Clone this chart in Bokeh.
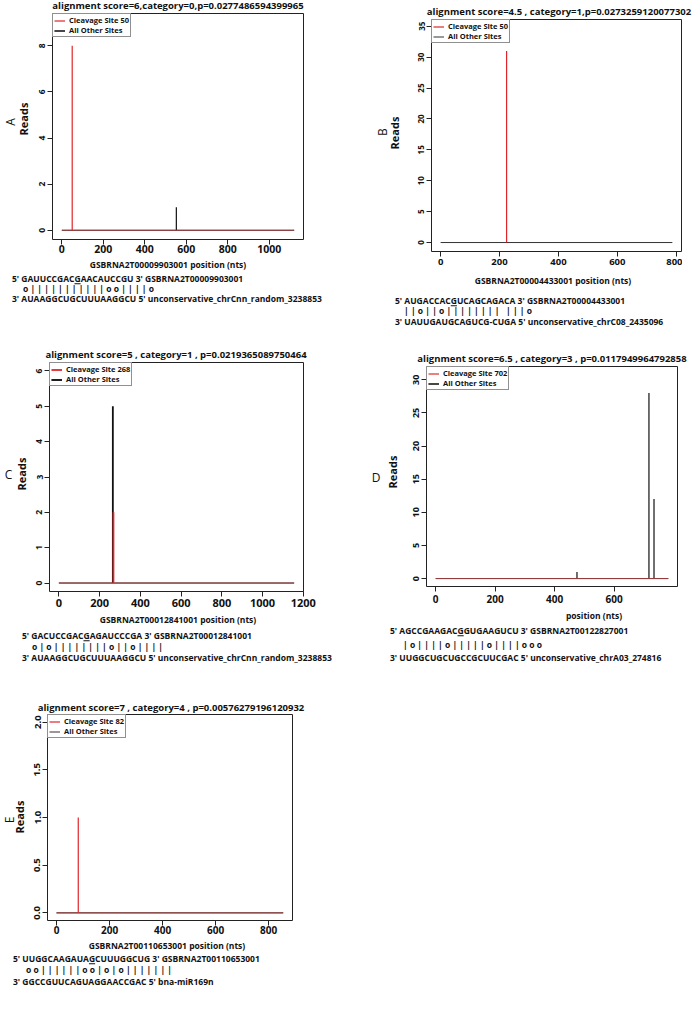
from bokeh.plotting import figure
from bokeh.models import Legend, LegendItem, FixedTicker, Range1d, Div
from bokeh.layouts import row, column
from bokeh.embed import file_html
from bokeh.resources import INLINE

FONT = "Open Sans"

# ------------------------------------------------------------------ data
panel_letters = ["A", "B", "C", "D", "E"]
plot_titles = [
    "alignment score=6,category=0,p=0.0277486594399965",
    "alignment score=4.5 , category=1,p=0.0273259120077302",
    "alignment score=5 , category=1 , p=0.0219365089750464",
    "alignment score=6.5 , category=3 , p=0.0117949964792858",
    "alignment score=7 , category=4 , p=0.00576279196120932",
]
transcript_ids = ["GSBRNA2T00009903001", "GSBRNA2T00004433001", "GSBRNA2T00012841001",
                  "GSBRNA2T00122827001", "GSBRNA2T00110653001"]
x_axis_titles = ["GSBRNA2T00009903001 position (nts)", "GSBRNA2T00004433001 position (nts)",
                 "GSBRNA2T00012841001 position (nts)", "position (nts)",
                 "GSBRNA2T00110653001 position (nts)"]
y_axis_title = "Reads"
transcript_lengths = [1120, 787, 1155, 782, 855]
cleavage_site_labels = [50, 50, 268, 702, 82]
cleavage_positions = [[50], [224], [268], [702], [82]]
cleavage_reads = [[8], [31], [2], [0], [1]]
other_positions = [[552], [], [265], [475, 717, 734], []]
other_reads = [[1], [], [5], [1, 28, 12], []]
x_tick_values = [[0, 200, 400, 600, 800, 1000], [0, 200, 400, 600, 800],
                 [0, 200, 400, 600, 800, 1000, 1200], [0, 200, 400, 600], [0, 200, 400, 600, 800]]
y_tick_values = [[0, 2, 4, 6, 8], [0, 5, 10, 15, 20, 25, 30, 35], [0, 1, 2, 3, 4, 5, 6],
                 [0, 5, 10, 15, 20, 25, 30], [0, 0.5, 1.0, 1.5, 2.0]]
y_tick_labels = [["0", "2", "4", "6", "8"], ["0", "5", "10", "15", "20", "25", "30", "35"],
                 ["0", "1", "2", "3", "4", "5", "6"], ["0", "5", "10", "15", "20", "25", "30"],
                 ["0.0", "0.5", "1.0", "1.5", "2.0"]]
x_limits = [(-45, 1165), (-31, 818), (-46, 1201), (-31, 813), (-34, 890)]
y_limits = [(-0.4, 9.4), (-1.45, 36.1), (-0.24, 6.24), (-1.2, 32.0), (-0.08, 2.08)]
mrna_seqs = ["GAUUCCGACGAACAUCCGU", "AUGACCACGUCAGCAGACA", "GACUCCGACGAGAUCCCGA",
             "AGCCGAAGACGGUGAAGUCU", "UUGGCAAGAUAGCUUUGGCUG"]
cut_index = [9, 8, 9, 10, 11]
pairing = ["o|||||||||||oo||||o", "||o||o|||||||| |||o", "o|o||||||||o||o||||",
           "|o||||o|||||o||||ooo", "oo||||||oo|o|o|||||||"]
srna_seqs = ["AUAAGGCUGCUUUAAGGCU", "UAUUGAUGCAGUCG-CUGA", "AUAAGGCUGCUUUAAGGCU",
             "UUGGCUGCUGCCGCUUCGAC", "GGCCGUUCAGUAGGAACCGAC"]
srna_ids = ["unconservative_chrCnn_random_3238853", "unconservative_chrC08_2435096",
            "unconservative_chrCnn_random_3238853", "unconservative_chrA03_274816", "bna-miR169n"]

# ------------------------------------------------------------------ layout (pixel coords)
GEO = [
    dict(block=(0, 0, 357, 335), left_w=32, frame=(52, 13, 303, 239), fig_bottom=259,
         title=(178, 6), reads=(24, 119), letter=(10, 122, True), xlab=(168, 265),
         seq_y=(279, 289, 299), seq_x=(12, 23), xstand=0, ysize=8.5, xsize=10.5, lw=1.2, red_base=True),
    dict(block=(357, 0, 682, 335), left_w=47, frame=(431, 19, 681, 251), fig_bottom=273,
         title=(559, 12), reads=(395, 133), letter=(382, 132, True), xlab=(553, 281),
         seq_y=(301, 311, 322), seq_x=(395, 404), xstand=2, ysize=8, xsize=9.5, lw=1.2, red_base=False),
    dict(block=(0, 335, 357, 666), left_w=29, frame=(49, 362, 303, 591), fig_bottom=613,
         title=(176, 355), reads=(22, 474), letter=(8.5, 474, False), xlab=(178, 620),
         seq_y=(636, 647, 658), seq_x=(22, 32), xstand=2, ysize=8.5, xsize=11, lw=1.8, red_base=True),
    dict(block=(357, 335, 682, 666), left_w=45, frame=(426, 366, 677, 586), fig_bottom=609,
         title=(552, 359), reads=(393, 472), letter=(376, 477, False), xlab=(594, 616),
         seq_y=(631, 645, 658), seq_x=(390, 403), xstand=3, ysize=9, xsize=10, lw=1.2, red_base=True),
    dict(block=(0, 666, 357, 995), left_w=27, frame=(47, 714, 292, 920), fig_bottom=939,
         title=(171, 708), reads=(20, 817), letter=(9, 820, True), xlab=(167, 946),
         seq_y=(959, 970, 982), seq_x=(13, 26), xstand=0, ysize=9.5, xsize=10, lw=1.2, red_base=True),
]
RED = "#e0252a"
RED_BASE = "#9a3b3b"
INK = "#222222"


def txt(x, y, s, size, weight="bold", rotate=False, align="center"):
    tr = "translate(-50%,-50%)" if align == "center" else "translate(0,-50%)"
    if rotate:
        tr += " rotate(-90deg)"
    return (f'<div style="position:absolute;left:{x}px;top:{y}px;width:0;height:0;">'
            f'<div style="position:absolute;left:0;top:0;transform:{tr};white-space:pre;'
            f'font-size:{size}px;font-weight:{weight};line-height:{size + 1}px;">{s}</div></div>')


def box_div(w, h, parts):
    html = (f'<div style="position:relative;width:{w}px;height:{h}px;font-family:\'Open Sans\',sans-serif;'
            f'color:#111111;">' + "".join(parts) + "</div>")
    return Div(text=html, width=w, height=h, margin=(0, 0, 0, 0), styles={"overflow": "visible"})


def make_plot(i, width, height, borders):
    g = GEO[i]
    bl, br, bt, bb = borders
    p = figure(width=width, height=height, output_backend="svg", toolbar_location=None, title=None,
               x_range=Range1d(*x_limits[i]), y_range=Range1d(*y_limits[i]),
               min_border_left=bl, min_border_right=br, min_border_top=bt, min_border_bottom=bb)
    p.grid.visible = False
    p.outline_line_color = INK
    p.outline_line_width = 1
    p.outline_line_alpha = 1
    p.background_fill_color = "white"
    p.border_fill_color = "white"

    L0 = transcript_lengths[i]
    r_base = p.line(x=[0, L0], y=[0, 0], line_color="#333333", line_width=1)
    r_other = p.segment(x0=other_positions[i], y0=[0] * len(other_positions[i]),
                        x1=other_positions[i], y1=other_reads[i],
                        line_color="#111111", line_width=g["lw"])
    if g["red_base"]:
        p.line(x=[0, L0], y=[0, 0], line_color=RED_BASE, line_width=1)
    r_red = p.segment(x0=cleavage_positions[i], y0=[0] * len(cleavage_positions[i]),
                      x1=cleavage_positions[i], y1=cleavage_reads[i],
                      line_color=RED, line_width=g["lw"])

    leg = Legend(items=[LegendItem(label=f"Cleavage Site {cleavage_site_labels[i]}", renderers=[r_red]),
                        LegendItem(label="All Other Sites", renderers=[r_base, r_other])],
                 location="top_left", margin=0, padding=1, spacing=0, label_standoff=4,
                 glyph_width=11, glyph_height=9, label_height=9,
                 label_text_font=FONT, label_text_font_size="7.5px", label_text_font_style="bold",
                 label_text_color="#111111",
                 border_line_color=INK, border_line_width=1,
                 background_fill_color="white", background_fill_alpha=1)
    p.add_layout(leg)

    xa = p.xaxis[0]
    xa.ticker = FixedTicker(ticks=x_tick_values[i])
    xa.bounds = (x_tick_values[i][0], x_tick_values[i][-1])
    ya = p.yaxis[0]
    ya.ticker = FixedTicker(ticks=y_tick_values[i])
    ya.bounds = (y_tick_values[i][0], y_tick_values[i][-1])
    ya.major_label_overrides = {v: s for v, s in zip(y_tick_values[i], y_tick_labels[i])}
    ya.major_label_orientation = "vertical"
    for ax, size, st in ((xa, g["xsize"], g["xstand"]), (ya, g["ysize"], 2)):
        ax.axis_line_color = INK
        ax.major_tick_line_color = INK
        ax.major_tick_out = 5
        ax.major_tick_in = 0
        ax.minor_tick_out = 0
        ax.minor_tick_in = 0
        ax.major_label_text_font = FONT
        ax.major_label_text_font_size = f"{size}px"
        ax.major_label_text_font_style = "bold"
        ax.major_label_text_color = "#111111"
        ax.major_label_standoff = st
    return p


def make_block(i):
    g = GEO[i]
    bx0, by0, bx1, by1 = g["block"]
    L, T, R, B = g["frame"]
    lw = g["left_w"]
    cx0 = bx0 + lw
    fig_top = T - 1
    fig_bot = g["fig_bottom"]
    col_w = bx1 - cx0
    title_h = fig_top - by0
    fig_h = fig_bot - fig_top
    bottom_h = by1 - fig_bot

    p = make_plot(i, col_w, fig_h, (L - cx0, bx1 - R, 1, fig_bot - B))

    title_div = box_div(col_w, title_h, [txt(g["title"][0] - cx0, g["title"][1] - by0, plot_titles[i], 9.5)])

    lx, ly, rot = g["letter"]
    left_div = box_div(lw, title_h + fig_h, [
        txt(lx - bx0, ly - by0, panel_letters[i], 12, weight="normal", rotate=rot),
        txt(g["reads"][0] - bx0, g["reads"][1] - by0, y_axis_title, 11, rotate=True),
    ])

    seq, k = mrna_seqs[i], cut_index[i]
    line1 = f"5' {seq[:k]}<u>{seq[k]}</u>{seq[k + 1:]} 3' {transcript_ids[i]}"
    line2 = " ".join(pairing[i])
    line3 = f"3' {srna_seqs[i]} 5' {srna_ids[i]}"
    xs, xp = g["seq_x"]
    ys = g["seq_y"]
    bottom_div = box_div(bx1 - bx0, bottom_h, [
        txt(g["xlab"][0] - bx0, g["xlab"][1] - fig_bot, x_axis_titles[i], 8.5),
        txt(xs - bx0, ys[0] - fig_bot, line1, 8.5, align="left"),
        txt(xp - bx0, ys[1] - fig_bot, line2, 8.5, align="left"),
        txt(xs - bx0, ys[2] - fig_bot, line3, 8.5, align="left"),
    ])
    return column(row(left_div, column(title_div, p, spacing=0), spacing=0), bottom_div, spacing=0)


blocks = [make_block(i) for i in range(5)]
layout = column(row(blocks[0], blocks[1], spacing=0),
                row(blocks[2], blocks[3], spacing=0),
                row(blocks[4], spacing=0), spacing=0)

open("out.html", "w").write(file_html(layout, INLINE))
